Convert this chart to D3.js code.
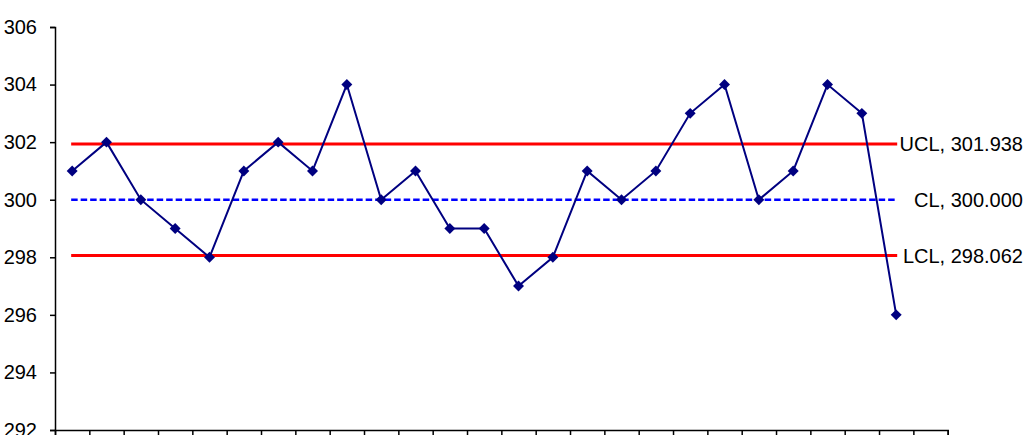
<!DOCTYPE html>
<html>
<head>
<meta charset="utf-8">
<script src="https://cdn.jsdelivr.net/npm/d3@7"></script>
<style>
  html, body { margin: 0; padding: 0; background: #fff; overflow: hidden; }
  svg { display: block; }
  text { font-family: "Liberation Sans", Arial, sans-serif; }
</style>
</head>
<body>
<svg id="chart" width="1033" height="435"></svg>
<script>
// Data
const samples = d3.range(1, 26);            // 25 subgroups
const values = [301, 302, 300, 299, 298, 301, 302, 301, 304, 300,
                301, 299, 299, 297, 298, 301, 300, 301, 303, 304,
                300, 301, 304, 303, 296];
const yTicks = [292, 294, 296, 298, 300, 302, 304, 306];
const limitNames = ["UCL", "CL", "LCL"];
const limitValues = [301.938, 300.000, 298.062];
const nCategories = 26;                      // one empty slot at the end

const svg = d3.select("#chart");

const x = d3.scaleLinear().domain([0, nCategories]).range([55, 947.7]);
const y = d3.scaleLinear().domain([292, 306]).range([430, 27]);

// Axes
const yAxis = d3.axisLeft(y).tickValues(yTicks).tickSize(5).tickPadding(13).tickFormat(d3.format("d"));
const gy = svg.append("g").attr("transform", "translate(55,0)").call(yAxis);
gy.select(".domain").attr("stroke", "#000").attr("stroke-width", 1.5);
gy.selectAll(".tick line").attr("stroke", "#000").attr("stroke-width", 1.5);
gy.selectAll(".tick text").attr("font-size", 20).attr("fill", "#000")
  .attr("font-family", "'Liberation Sans', Arial, sans-serif");

const xAxis = d3.axisBottom(x).tickValues(d3.range(nCategories + 1)).tickSize(6).tickFormat("");
const gx = svg.append("g").attr("transform", "translate(0,430)").call(xAxis);
gx.select(".domain").attr("stroke", "#000").attr("stroke-width", 1.5);
gx.selectAll(".tick line").attr("stroke", "#000").attr("stroke-width", 1.5);

// Control lines
const xStart = x(0.5), xEnd = x(samples.length - 0.5);
const limitStyles = {
  UCL: { stroke: "#ff0000", width: 3, dash: null },
  CL:  { stroke: "#0000ff", width: 2.5, dash: "6.5,3" },
  LCL: { stroke: "#ff0000", width: 3, dash: null }
};
limitNames.forEach((name, i) => {
  const s = limitStyles[name];
  svg.append("line")
    .attr("x1", xStart - 1).attr("x2", xEnd + 1)
    .attr("y1", y(limitValues[i])).attr("y2", y(limitValues[i]))
    .attr("stroke", s.stroke).attr("stroke-width", s.width)
    .attr("stroke-dasharray", s.dash);
  svg.append("text")
    .attr("x", 1023).attr("y", y(limitValues[i]))
    .attr("dy", "0.36em")
    .attr("text-anchor", "end")
    .attr("font-size", 20).attr("fill", "#000")
    .text(name + ", " + d3.format(".3f")(limitValues[i]));
});

// Data line
const line = d3.line().x((d, i) => x(i + 0.5)).y(d => y(d));
svg.append("path").datum(values)
  .attr("d", line).attr("fill", "none")
  .attr("stroke", "#000080").attr("stroke-width", 2);

// Diamond markers
const diamond = d3.symbol().type(d3.symbolSquare).size(60);
svg.selectAll(".pt").data(values).enter().append("path")
  .attr("class", "pt")
  .attr("d", diamond)
  .attr("transform", (d, i) => `translate(${x(i + 0.5)},${y(d)}) rotate(45)`)
  .attr("fill", "#000080");
</script>
</body>
</html>
